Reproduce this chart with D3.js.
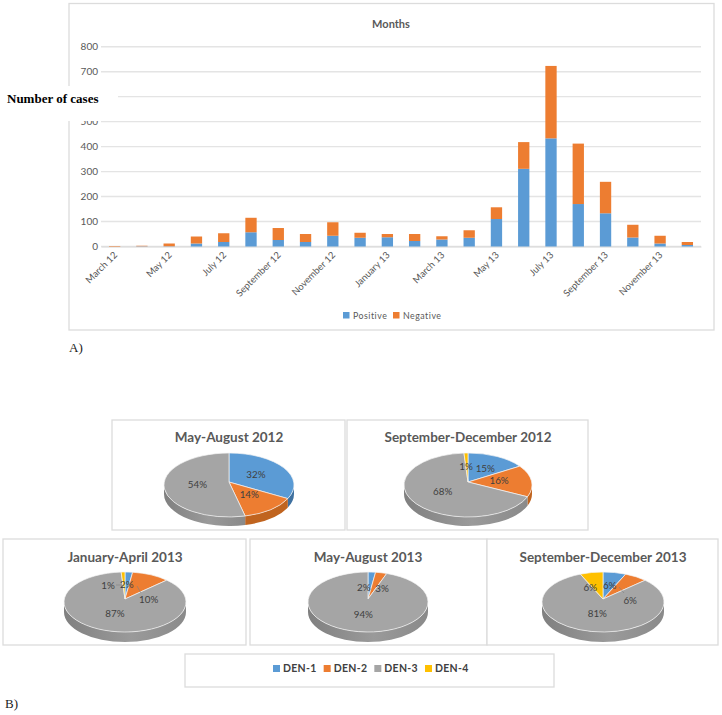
<!DOCTYPE html>
<html>
<head>
<meta charset="utf-8">
<style>
  html, body { margin: 0; padding: 0; background: #fff; }
  svg { display: block; }
</style>
<script src="https://cdn.jsdelivr.net/npm/d3@7"></script>
</head>
<body>
<div id="chart"></div>
<script>
// bar chart data
var months = ['March 12', 'April 12', 'May 12', 'June 12', 'July 12', 'August 12', 'September 12',
  'October 12', 'November 12', 'December 12', 'January 13', 'February 13', 'March 13', 'April 13',
  'May 13', 'June 13', 'July 13', 'August 13', 'September 13', 'October 13', 'November 13', 'December 13'];
var positive = [0, 1, 1, 12, 18, 57, 26, 18, 43, 35, 37, 22, 28, 35, 110, 311, 433, 170, 133, 36, 12, 6];
var negative = [2, 2, 11, 28, 35, 58, 48, 32, 54, 20, 13, 28, 13, 30, 47, 107, 290, 242, 126, 51, 31, 12];
var y_ticks = [0, 100, 200, 300, 400, 500, 600, 700, 800];

// pie chart data
var serotypes = ['DEN-1', 'DEN-2', 'DEN-3', 'DEN-4'];
var periods = ['May-August 2012', 'September-December 2012', 'January-April 2013', 'May-August 2013', 'September-December 2013'];
var den1 = [32, 15, 2, 2, 6];
var den2 = [14, 16, 10, 3, 6];
var den3 = [54, 68, 87, 94, 81];
var den4 = [0, 1, 1, 0, 6];

var pie_colors = ['#5b9bd5', '#ed7d31', '#a5a5a5', '#ffc000'];
var wall_colors = ['#3f71a0', '#c0641f', '', '#b88c00'];
var font = 'Lato, "Open Sans", sans-serif';

var svg = d3.select('#chart').append('svg').attr('width', 722).attr('height', 715);

var defs = svg.append('defs');
var grad = defs.append('linearGradient').attr('id', 'wall-gray');
grad.append('stop').attr('offset', '0%').attr('stop-color', '#808080');
grad.append('stop').attr('offset', '55%').attr('stop-color', '#9a9a9a');
grad.append('stop').attr('offset', '100%').attr('stop-color', '#8a8a8a');

function frame(x0, y0, x1, y1) {
  svg.append('rect')
    .attr('x', x0).attr('y', y0)
    .attr('width', x1 - x0).attr('height', y1 - y0)
    .attr('fill', '#fff')
    .attr('stroke', '#dcdcdc')
    .attr('stroke-width', 1.3);
}

// ---- A) stacked bars ----
frame(69, 3.5, 714, 330);

var x_scale = d3.scaleBand().domain(months).range([101, 701]).paddingInner(0.585).paddingOuter(0.2925);
var y_scale = d3.scaleLinear().domain([0, 800]).range([246.5, 46.7]);

svg.append('g')
  .selectAll('line')
  .data(y_ticks)
  .enter()
  .append('line')
  .attr('x1', 101).attr('x2', 701)
  .attr('y1', function(d) { return y_scale(d); })
  .attr('y2', function(d) { return y_scale(d); })
  .attr('stroke', '#e4e4e4')
  .attr('stroke-width', 1.4);

// the 600 label sits under the pasted patch in the original, so it never shows
var y_axis = svg.append('g')
  .attr('transform', 'translate(101,0)')
  .call(d3.axisLeft(y_scale).tickValues(y_ticks).tickSize(0).tickPadding(3)
    .tickFormat(function(d) { return d == 600 ? '' : d; }));
y_axis.select('.domain').remove();
y_axis.selectAll('text').attr('font-family', font).attr('font-size', 10).attr('fill', '#595959');

var x_axis = svg.append('g')
  .attr('transform', 'translate(0,246.5)')
  .call(d3.axisBottom(x_scale).tickSize(0).tickFormat(function(d, i) { return i % 2 == 0 ? d : ''; }));
x_axis.select('.domain').attr('stroke', '#d9d9d9');
x_axis.selectAll('text')
  .attr('font-family', font).attr('font-size', 9.5).attr('fill', '#595959')
  .attr('text-anchor', 'end')
  .attr('transform', 'translate(-3,3) rotate(-45)')
  .attr('dy', '0.6em');

svg.append('g').selectAll('rect')
  .data(months)
  .enter()
  .append('rect')
  .attr('x', function(d) { return x_scale(d); })
  .attr('width', x_scale.bandwidth())
  .attr('y', function(d, i) { return y_scale(positive[i]); })
  .attr('height', function(d, i) { return y_scale(0) - y_scale(positive[i]); })
  .attr('fill', pie_colors[0]);

svg.append('g').selectAll('rect')
  .data(months)
  .enter()
  .append('rect')
  .attr('x', function(d) { return x_scale(d); })
  .attr('width', x_scale.bandwidth())
  .attr('y', function(d, i) { return y_scale(positive[i] + negative[i]); })
  .attr('height', function(d, i) { return y_scale(0) - y_scale(negative[i]); })
  .attr('fill', pie_colors[1]);

svg.append('text')
  .attr('x', 391).attr('y', 28)
  .attr('text-anchor', 'middle')
  .attr('font-family', font).attr('font-size', 11).attr('font-weight', 700).attr('fill', '#595959')
  .text('Months');

// bar legend
[['Positive', 343, pie_colors[0]], ['Negative', 393, pie_colors[1]]].forEach(function(d) {
  svg.append('rect').attr('x', d[1]).attr('y', 312).attr('width', 6.5).attr('height', 6.5).attr('fill', d[2]);
  svg.append('text')
    .attr('x', d[1] + 10).attr('y', 319)
    .attr('font-family', font).attr('font-size', 8.8).attr('letter-spacing', 0.5).attr('fill', '#595959')
    .text(d[0]);
});

// white patch pasted over the chart, with the axis title on it
svg.append('rect').attr('x', 0).attr('y', 86).attr('width', 118).attr('height', 35).attr('fill', '#fff');
svg.append('text')
  .attr('x', 7).attr('y', 103)
  .attr('font-family', '"Liberation Serif", serif').attr('font-size', 13).attr('font-weight', 700).attr('fill', '#000')
  .text('Number of cases');

svg.append('text')
  .attr('x', 69).attr('y', 352)
  .attr('font-family', '"Liberation Serif", serif').attr('font-size', 13).attr('fill', '#222')
  .text('A)');
svg.append('text')
  .attr('x', 5).attr('y', 708)
  .attr('font-family', '"Liberation Serif", serif').attr('font-size', 13).attr('fill', '#222')
  .text('B)');

// ---- B) tilted pies ----
// box, centre and radii for each panel
var panels = [
  { box: [112, 420, 345, 530], cx: 229, cy: 485, rx: 65, ry: 32, depth: 9, titleY: 442 },
  { box: [347, 420, 588, 530], cx: 468, cy: 485, rx: 64, ry: 32, depth: 9, titleY: 442 },
  { box: [3, 539, 246, 645], cx: 125, cy: 602, rx: 61, ry: 30, depth: 10, titleY: 562 },
  { box: [250, 539, 487, 645], cx: 368, cy: 602, rx: 60, ry: 30, depth: 10, titleY: 562 },
  { box: [487, 539, 718, 645], cx: 603, cy: 602, rx: 61, ry: 30, depth: 10, titleY: 562 }
];
// labels pushed off their slice in the original: panel, slice, dx, dy, leader line
var label_moves = [
  [1, 0, 3, 0, null],
  [1, 3, -1, 0, null],
  [2, 3, -16, 1, [[116, 585], [122, 585]]],
  [2, 1, 11, 13, [[137, 586], [141, 593]]],
  [3, 0, -6, 3, null],
  [3, 1, 7.5, 3, null],
  [4, 0, 1, 0, null],
  [4, 1, 11, 13, [[619, 587], [624, 593]]],
  [4, 3, -7, 2, null]
];

var pie = d3.pie().sort(null);
var HALF = Math.PI / 2;

panels.forEach(function(p, k) {
  var shares = [den1[k], den2[k], den3[k], den4[k]];
  var apex_y = p.cy - 3;
  var slices = pie(shares);

  function pt(a) {
    return [p.cx + p.rx * Math.sin(a), p.cy - p.ry * Math.cos(a)];
  }

  frame(p.box[0], p.box[1], p.box[2], p.box[3]);

  // wall, only the part of each slice facing the viewer
  slices.forEach(function(s, i) {
    var a0 = Math.max(s.startAngle, HALF);
    var a1 = Math.min(s.endAngle, 3 * HALF);
    if (a1 <= a0) return;
    var s0 = pt(a0), s1 = pt(a1);
    var arc = 'A' + p.rx + ',' + p.ry + ' 0 ' + (a1 - a0 > Math.PI ? 1 : 0) + ' ';
    svg.append('path')
      .attr('d', 'M' + s0 + arc + '1 ' + s1 + 'L' + [s1[0], s1[1] + p.depth] + arc + '0 ' + [s0[0], s0[1] + p.depth] + 'Z')
      .attr('fill', i == 2 ? 'url(#wall-gray)' : wall_colors[i]);
  });

  // top face
  slices.forEach(function(s, i) {
    if (s.value == 0) return;
    var s0 = pt(s.startAngle), s1 = pt(s.endAngle);
    svg.append('path')
      .attr('d', 'M' + [p.cx, apex_y] + 'L' + s0 + 'A' + p.rx + ',' + p.ry + ' 0 ' +
        (s.endAngle - s.startAngle > Math.PI ? 1 : 0) + ' 1 ' + s1 + 'Z')
      .attr('fill', pie_colors[i])
      .attr('stroke', '#f4f4f4')
      .attr('stroke-width', 0.7);
  });

  // percent labels
  slices.forEach(function(s, i) {
    if (s.value == 0) return;
    var mid = (s.startAngle + s.endAngle) / 2;
    var lx = p.cx + 0.49 * p.rx * Math.sin(mid);
    var ly = apex_y - 0.49 * p.ry * Math.cos(mid);
    label_moves.forEach(function(m) {
      if (m[0] == k && m[1] == i) {
        lx += m[2];
        ly += m[3];
        if (m[4]) {
          svg.append('line')
            .attr('x1', m[4][0][0]).attr('y1', m[4][0][1])
            .attr('x2', m[4][1][0]).attr('y2', m[4][1][1])
            .attr('stroke', '#7f7f7f').attr('stroke-width', 0.6);
        }
      }
    });
    svg.append('text')
      .attr('x', lx).attr('y', ly)
      .attr('text-anchor', 'middle').attr('dominant-baseline', 'central')
      .attr('font-family', font).attr('font-size', 9.8).attr('fill', '#404040')
      .text(s.value + '%');
  });

  svg.append('text')
    .attr('x', p.cx).attr('y', p.titleY)
    .attr('text-anchor', 'middle')
    .attr('font-family', font).attr('font-size', 13.5).attr('font-weight', 700).attr('fill', '#595959')
    .text(periods[k]);
});

// pie legend
frame(185, 654, 554, 687);
var legend_x = d3.scalePoint().domain(serotypes).range([273, 425]);
serotypes.forEach(function(d, i) {
  svg.append('rect')
    .attr('x', legend_x(d)).attr('y', 665)
    .attr('width', 7).attr('height', 7)
    .attr('fill', pie_colors[i]);
  svg.append('text')
    .attr('x', legend_x(d) + 10).attr('y', 672)
    .attr('font-family', font).attr('font-size', 10.5).attr('font-weight', 700).attr('letter-spacing', 0.3).attr('fill', '#404040')
    .text(d);
});
</script>
</body>
</html>
